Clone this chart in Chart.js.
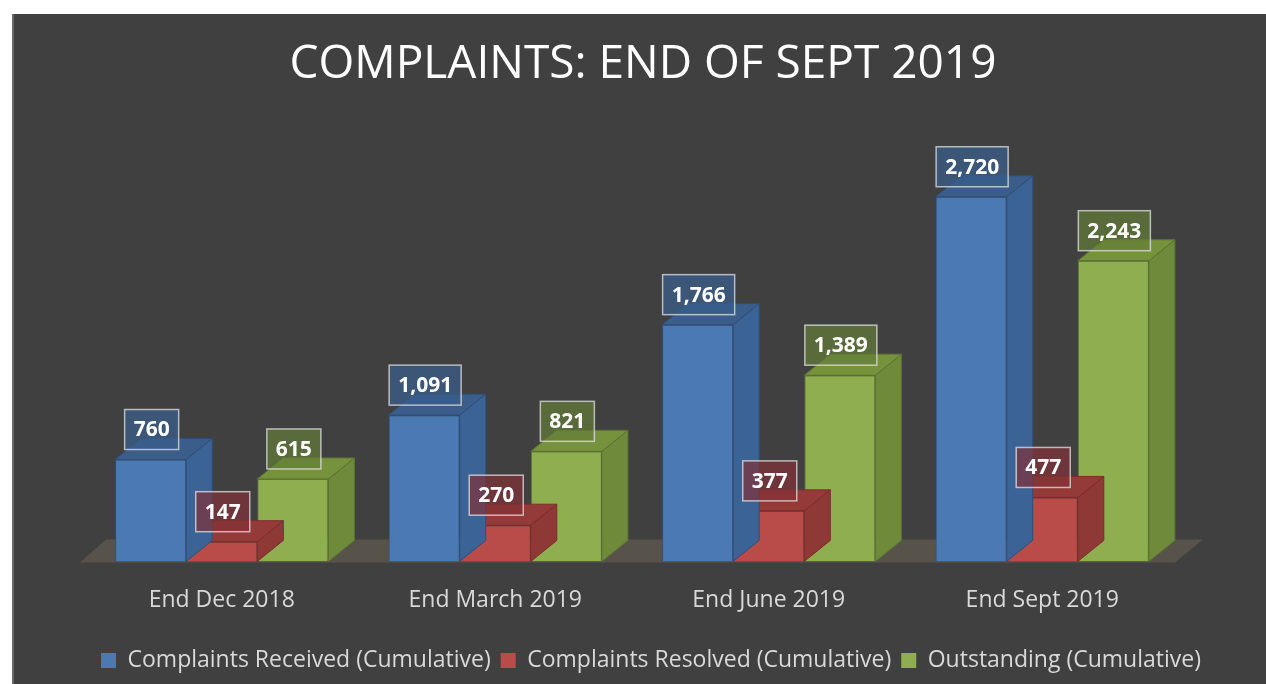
<!DOCTYPE html>
<html>
<head>
    <title>Complaints: End of Sept 2019</title>
    <script src="https://cdn.jsdelivr.net/npm/chart.js"></script>
    <style>
        html, body { margin: 0; padding: 0; background: #ffffff; }
        #wrap { width: 1266px; height: 684px; }
    </style>
</head>
<body>
    <div id="wrap"><canvas id="barChart" width="1266" height="684"></canvas></div>
    <script>
        // データ
        const categories = ["End Dec 2018", "End March 2019", "End June 2019", "End Sept 2019"];
        const received = [760, 1091, 1766, 2720];
        const resolved = [147, 270, 377, 477];
        const outstanding = [615, 821, 1389, 2243];

        const seriesNames = [
            "Complaints Received (Cumulative)",
            "Complaints Resolved (Cumulative)",
            "Outstanding (Cumulative)",
        ];

        // 色 (front, side, top)
        const palette = [
            { front: "#4a79b3", side: "#3b6396", top: "#3a5d8a", edge: "#2f4f7a", label: "rgba(58,93,138,0.75)" },
            { front: "#b94c49", side: "#8e3936", top: "#943a38", edge: "#7a2f2d", label: "rgba(130,50,55,0.7)" },
            { front: "#8fae50", side: "#6e8a3a", top: "#76923d", edge: "#5c7530", label: "rgba(100,125,55,0.7)" },
        ];

        const DX = 26;
        const DY = -21;

        // 背景と床
        const backgroundPlugin = {
            id: "background",
            afterLayout(chart) {
                // 凡例とタイトルを少し右へ
                if (chart.legend) {
                    chart.legend.left += 18;
                    chart.legend.right += 18;
                }
                if (chart.titleBlock) {
                    chart.titleBlock.left += 10;
                    chart.titleBlock.right += 10;
                }
            },
            beforeDraw(chart) {
                const c = chart.ctx;
                c.save();
                c.fillStyle = "#ffffff";
                c.fillRect(0, 0, chart.width, chart.height);
                c.fillStyle = "#404040";
                c.fillRect(13, 14, chart.width - 13, chart.height - 14);
                c.fillStyle = "#6a6a6a";
                c.fillRect(12, 14, 2, chart.height - 14);
                c.restore();
            },
            beforeDatasetsDraw(chart) {
                const c = chart.ctx;
                const a = chart.chartArea;
                const y0 = a.bottom + 1;
                c.save();
                c.fillStyle = "#57534a";
                c.beginPath();
                c.moveTo(a.left - 5, y0);
                c.lineTo(a.right - 4, y0);
                c.lineTo(a.right - 4 + DX + 2, y0 + DY - 2);
                c.lineTo(a.left - 5 + DX, y0 + DY - 2);
                c.closePath();
                c.fill();
                c.restore();
            },
        };

        // 3D の側面と上面 (前面より先に描く)
        const boxPlugin = {
            id: "box3d",
            beforeDatasetDraw(chart, args) {
                const c = chart.ctx;
                const col = palette[args.index];
                const meta = chart.getDatasetMeta(args.index);
                c.save();
                c.lineWidth = 1;
                c.strokeStyle = col.edge;
                meta.data.forEach((bar) => {
                    const p = bar.getProps(["x", "y", "base", "width"], true);
                    const l = p.x - p.width / 2;
                    const r = p.x + p.width / 2;
                    // 側面
                    c.fillStyle = col.side;
                    c.beginPath();
                    c.moveTo(r, p.y);
                    c.lineTo(r + DX, p.y + DY);
                    c.lineTo(r + DX, p.base + DY);
                    c.lineTo(r, p.base);
                    c.closePath();
                    c.fill();
                    c.stroke();
                    // 上面
                    c.fillStyle = col.top;
                    c.beginPath();
                    c.moveTo(l, p.y);
                    c.lineTo(l + DX, p.y + DY);
                    c.lineTo(r + DX, p.y + DY);
                    c.lineTo(r, p.y);
                    c.closePath();
                    c.fill();
                    c.stroke();
                });
                c.restore();
            },
            afterDatasetsDraw(chart) {
                const c = chart.ctx;
                c.save();
                c.font = "bold 21px 'Open Sans'";
                c.textAlign = "center";
                c.textBaseline = "middle";
                chart.data.datasets.forEach((ds, i) => {
                    const meta = chart.getDatasetMeta(i);
                    meta.data.forEach((bar, j) => {
                        const p = bar.getProps(["x", "y"], true);
                        const txt = ds.data[j].toLocaleString("en-US");
                        const w = c.measureText(txt).width + 18;
                        const h = 40;
                        const bx = p.x - w / 2 + 1;
                        const by = p.y - 10 - h;
                        c.fillStyle = palette[i].label;
                        c.fillRect(bx, by, w, h);
                        c.strokeStyle = "rgba(225,225,225,0.75)";
                        c.lineWidth = 1.5;
                        c.strokeRect(bx, by, w, h);
                        c.fillStyle = "#ffffff";
                        c.fillText(txt, bx + w / 2, by + h / 2 + 1);
                    });
                });
                c.restore();
            },
        };

        const ctx = document.getElementById("barChart").getContext("2d");

        const chartData = {
            labels: categories,
            datasets: [received, resolved, outstanding].map((values, i) => ({
                label: seriesNames[i],
                data: values,
                backgroundColor: palette[i].front,
                borderColor: palette[i].edge,
                borderWidth: 1,
                barPercentage: 1.0,
                categoryPercentage: 0.78,
            })),
        };

        // 軸は見せずに余白だけ取る
        const hiddenAxis = (position, width) => ({
            position: position,
            display: true,
            min: 0,
            max: 3000,
            grid: { display: false, drawTicks: false },
            border: { display: false },
            ticks: { display: false },
            afterFit(scale) {
                scale.width = width;
            },
        });

        const config = {
            type: "bar",
            data: chartData,
            options: {
                responsive: false,
                animation: false,
                layout: { padding: { top: 14, left: 20, right: 20, bottom: 2 } },
                plugins: {
                    title: {
                        display: true,
                        text: "COMPLAINTS: END OF SEPT 2019",
                        color: "#ffffff",
                        font: { family: "'Open Sans'", size: 46, weight: "normal" },
                        padding: { top: 23, bottom: 67 },
                    },
                    legend: {
                        position: "bottom",
                        labels: {
                            color: "#d9d9d9",
                            font: { family: "'Open Sans'", size: 23 },
                            boxWidth: 15,
                            boxHeight: 15,
                            padding: 10,
                            generateLabels(chart) {
                                return chart.data.datasets.map((ds, i) => ({
                                    text: ds.label,
                                    fillStyle: ds.backgroundColor,
                                    strokeStyle: ds.backgroundColor,
                                    lineWidth: 0,
                                    fontColor: "#d9d9d9",
                                    datasetIndex: i,
                                }));
                            },
                        },
                    },
                    tooltip: { enabled: false },
                },
                scales: {
                    x: {
                        grid: { display: false, drawTicks: false },
                        border: { display: false },
                        ticks: {
                            color: "#d9d9d9",
                            font: { family: "'Open Sans'", size: 23 },
                            padding: 25,
                        },
                    },
                    y: hiddenAxis("left", 65),
                    y2: hiddenAxis("right", 67),
                },
            },
            plugins: [backgroundPlugin, boxPlugin],
        };

        const barChart = new Chart(ctx, config);
    </script>
</body>
</html>
